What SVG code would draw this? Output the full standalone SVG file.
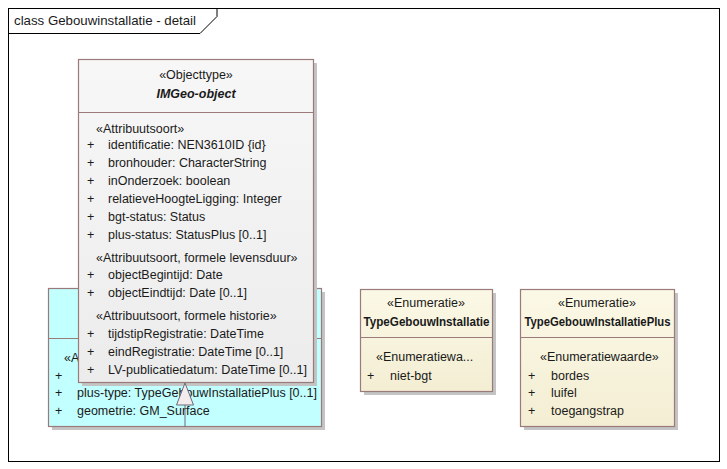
<svg xmlns="http://www.w3.org/2000/svg" width="727" height="469" viewBox="0 0 727 469">
<defs>
<linearGradient id="gGray" x1="0" y1="0" x2="0" y2="1"><stop offset="0" stop-color="#f7f7f7"/><stop offset="1" stop-color="#ececec"/></linearGradient>
<linearGradient id="gYel" x1="0" y1="0" x2="0" y2="1"><stop offset="0" stop-color="#fbf8e6"/><stop offset="1" stop-color="#f3eed3"/></linearGradient>
<style>
text{font-family:"Liberation Sans",Arial,sans-serif;font-size:12.5px;fill:#1a1a1a}
.c{text-anchor:middle}
.b{font-weight:bold;font-size:12px}
.bi{font-weight:bold;font-style:italic}
.box{stroke:#9a7a7a;stroke-width:1.2}
.sh{fill:#c4c4c4}
.sep{stroke:#9a7a7a;stroke-width:1}
</style>
</defs>
<rect width="727" height="469" fill="#ffffff"/>
<g id="frame">
<rect x="8.5" y="8.5" width="711" height="453" fill="none" stroke="#000" stroke-width="1"/>
<path d="M8.5 33.5 H200 L217 16.5 V8.5" fill="none" stroke="#000" stroke-width="1"/>
<text x="14" y="25" style="font-size:13px" textLength="182" lengthAdjust="spacingAndGlyphs">class Gebouwinstallatie - detail</text>
</g>
<g id="GebouwInstallatie">
<rect class="sh" x="52" y="292" width="273" height="138"/>
<rect class="box" x="48.5" y="288.5" width="273" height="138" fill="#c2ffff"/>
<line class="sep" x1="48.5" y1="338.5" x2="321.5" y2="338.5"/>
<text x="64" y="362">«A</text>
<text x="55" y="380">+</text>
<text x="55" y="397">+</text>
<text x="77" y="397" textLength="240" lengthAdjust="spacingAndGlyphs">plus-type: TypeGebouwInstallatiePlus [0..1]</text>
<text x="55" y="415">+</text>
<text x="77" y="415">geometrie: GM_Surface</text>
</g>
<g id="IMGeo-object">
<rect class="sh" x="82" y="63" width="235" height="323"/>
<rect class="box" x="78.5" y="59.5" width="235" height="323" fill="url(#gGray)"/>
<line class="sep" x1="78.5" y1="112.5" x2="313.5" y2="112.5"/>
<text class="c" x="196" y="79">«Objecttype»</text>
<text class="c bi" x="196" y="98">IMGeo-object</text>
<text x="96" y="133">«Attribuutsoort»</text>
<text x="87" y="149">+</text><text x="108" y="149">identificatie: NEN3610ID {id}</text>
<text x="87" y="167">+</text><text x="108" y="167">bronhouder: CharacterString</text>
<text x="87" y="185">+</text><text x="108" y="185">inOnderzoek: boolean</text>
<text x="87" y="203">+</text><text x="108" y="203">relatieveHoogteLigging: Integer</text>
<text x="87" y="221">+</text><text x="108" y="221">bgt-status: Status</text>
<text x="87" y="239">+</text><text x="108" y="239">plus-status: StatusPlus [0..1]</text>
<text x="96" y="262">«Attribuutsoort, formele levensduur»</text>
<text x="87" y="279">+</text><text x="108" y="279">objectBegintijd: Date</text>
<text x="87" y="297">+</text><text x="108" y="297">objectEindtijd: Date [0..1]</text>
<text x="96" y="320">«Attribuutsoort, formele historie»</text>
<text x="87" y="338">+</text><text x="108" y="338">tijdstipRegistratie: DateTime</text>
<text x="87" y="356">+</text><text x="108" y="356">eindRegistratie: DateTime [0..1]</text>
<text x="87" y="374">+</text><text x="108" y="374" textLength="199" lengthAdjust="spacingAndGlyphs">LV-publicatiedatum: DateTime [0..1]</text>
</g>
<g id="TypeGebouwInstallatie">
<rect class="sh" x="364" y="293" width="132" height="102"/>
<rect class="box" x="360.5" y="289.5" width="132" height="102" fill="url(#gYel)"/>
<line class="sep" x1="360.5" y1="337.5" x2="492.5" y2="337.5"/>
<text class="c" x="426" y="307">«Enumeratie»</text>
<text class="c b" x="426.5" y="326" textLength="126" lengthAdjust="spacingAndGlyphs">TypeGebouwInstallatie</text>
<text x="376" y="361">«Enumeratiewa...</text>
<text x="367" y="380">+</text><text x="390" y="380">niet-bgt</text>
</g>
<g id="TypeGebouwInstallatiePlus">
<rect class="sh" x="524" y="293" width="154" height="137"/>
<rect class="box" x="520.5" y="289.5" width="154" height="137" fill="url(#gYel)"/>
<line class="sep" x1="520.5" y1="337.5" x2="674.5" y2="337.5"/>
<text class="c" x="597" y="307">«Enumeratie»</text>
<text class="c b" x="597.5" y="326" textLength="146" lengthAdjust="spacingAndGlyphs">TypeGebouwInstallatiePlus</text>
<text x="540" y="361">«Enumeratiewaarde»</text>
<text x="528" y="380">+</text><text x="551" y="380">bordes</text>
<text x="528" y="397">+</text><text x="551" y="397">luifel</text>
<text x="528" y="415">+</text><text x="551" y="415">toegangstrap</text>
</g>
<g id="connectors">
<line x1="185" y1="427" x2="185" y2="405" stroke="#6a6a7a" stroke-width="1"/>
<path d="M185 383 L193.5 405 H176.5 Z" fill="#f4ecec" stroke="#6a6a7a" stroke-width="1"/>
</g>
</svg>
